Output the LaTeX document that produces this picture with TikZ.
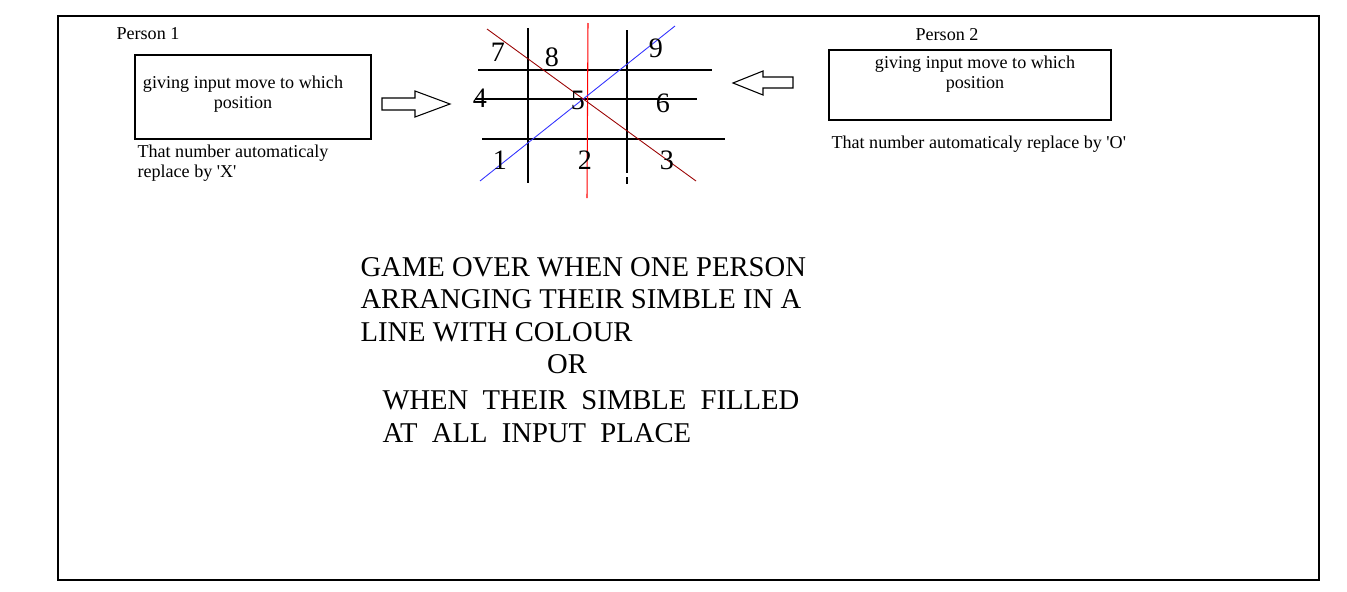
\documentclass[tikz,border=0pt]{standalone}
\usepackage{fontspec}
\setmainfont{Liberation Serif}
\usetikzlibrary{positioning}

\begin{document}
\begin{tikzpicture}%
  [x=0.02cm, y=-0.02cm, line width=0.6pt,
   small/.style={font=\fontsize{10.3}{11.5}\selectfont, inner sep=0pt},
   digit/.style={font=\fontsize{16}{18}\selectfont, inner sep=0pt},
   big/.style={font=\fontsize{16.3}{18}\selectfont, inner sep=0pt, anchor=west},
   inbox/.style={draw, rectangle, inner sep=0pt}]

  \useasboundingbox (0,0) rectangle (1347,592);
  \draw (58,16) rectangle (1319,580);

  % person 1
  \node (p1) at (148,34) [small] {Person 1};
  \node (box1) at (253,97) [inbox, minimum width=236*0.02cm, minimum height=84*0.02cm] {};
  \node (in1) at (243,94) [small, align=center]
        {giving input move to which\\position};
  \node (rep1) at (137,163) [small, anchor=west, align=left]
        {That number automaticaly\\replace by \textquotesingle X\textquotesingle};
  \draw (382,98) -- (415,98) -- (415,91) -- (450,104) -- (415,117) -- (415,110)
        -- (382,110) -- cycle;

  % person 2
  \node (p2) at (947,35) [small] {Person 2};
  \node (box2) at (970,85) [inbox, minimum width=282*0.02cm, minimum height=70*0.02cm] {};
  \node (in2) at (975,74) [small, align=center]
        {giving input move to which\\position};
  \node (rep2) at (831,144) [small, anchor=west]
        {That number automaticaly replace by \textquotesingle O\textquotesingle};
  \draw (793,77) -- (763,77) -- (763,71) -- (733,83) -- (763,95) -- (763,88)
        -- (793,88) -- cycle;

  % board
  \draw (528,28) -- (528,183);
  \draw (627,30) -- (627,173);
  \draw (627,177) -- (627,184);
  \draw (478,70) -- (712,70);
  \draw (475,99) -- (697,99);
  \draw (482,139) -- (725,139);
  \draw[red] (588,23) -- (587,198);
  \draw[blue!80!white, line width=0.5pt] (480,181) -- (675,26);
  \draw[red!60!black, line width=0.5pt] (487,29) -- (696,181);

  \node (n7) at (498,52) [digit] {7};
  \node (n8) at (552,57) [digit] {8};
  \node (n9) at (656,48) [digit] {9};
  \node (n4) at (480,98) [digit] {4};
  \node (n5) at (578,100) [digit] {5};
  \node (n6) at (663,103) [digit] {6};
  \node (n1) at (500,160) [digit] {1};
  \node (n2) at (585,160) [digit] {2};
  \node (n3) at (667,160) [digit] {3};

  % game over
  \node (l1) at (360,267) [big] {GAME OVER WHEN ONE PERSON};
  \node (l2) at (360,299) [big] {ARRANGING THEIR SIMBLE IN A};
  \node (l3) at (360,332) [big] {LINE WITH COLOUR};
  \node (l4) at (567,364) [big, anchor=center] {OR};
  \node (l5) at (382,400) [big] {WHEN\ \ THEIR\ \ SIMBLE\ \ FILLED};
  \node (l6) at (382,433) [big] {AT\ \ ALL\ \ INPUT\ \ PLACE};

\end{tikzpicture}
\end{document}
